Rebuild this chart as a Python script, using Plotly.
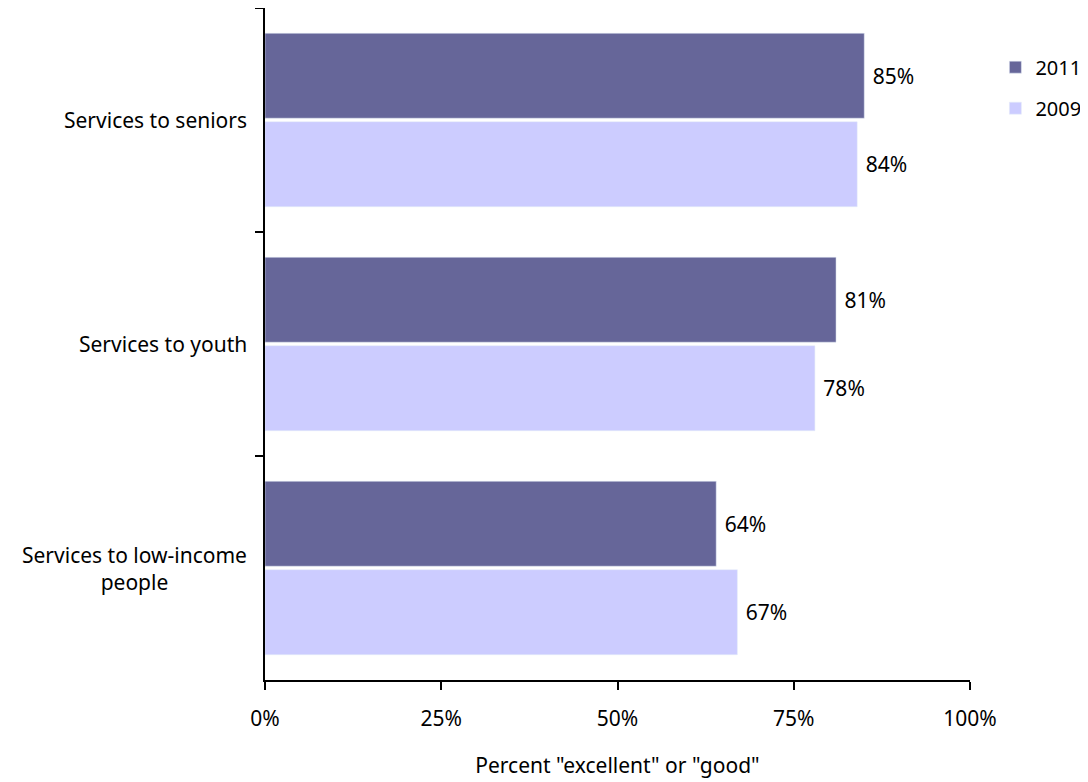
import plotly.graph_objects as go

categories = ["Services to seniors", "Services to youth", "Services to low-income<br>people"]
values_2011 = [85, 81, 64]
values_2009 = [84, 78, 67]
x_ticks = [0, 25, 50, 75, 100]
x_tick_labels = ["0%", "25%", "50%", "75%", "100%"]

FONT = "Noto Sans"
FS = 21
PAD = "\u00a0"
fig = go.Figure()
fig.add_trace(go.Bar(
    y=categories, x=values_2011, orientation="h", name="2011",
    marker=dict(color="#666699"), legendgroup="a",
    text=[f"{PAD}{v}%" for v in values_2011], textposition="outside",
    textfont=dict(size=FS, color="black", family=FONT), cliponaxis=False,
))
fig.add_trace(go.Bar(
    y=categories, x=values_2009, orientation="h", name="2009",
    marker=dict(color="#CCCCFF"), legendgroup="b",
    text=[f"{PAD}{v}%" for v in values_2009], textposition="outside",
    textfont=dict(size=FS, color="black", family=FONT), cliponaxis=False,
))

for c in categories:
    fig.add_annotation(x=-0.023, xref="paper", y=c, yref="y", text=c,
                       xanchor="right", align="center", showarrow=False,
                       font=dict(size=FS, color="black", family=FONT))

fig.update_layout(
    width=1080, height=774,
    margin=dict(l=257, r=118, t=0, b=102, autoexpand=False),
    paper_bgcolor="white", plot_bgcolor="white",
    font=dict(family=FONT, size=FS, color="black"),
    barmode="group", bargap=0.21, bargroupgap=0.04,
    legend=dict(x=1.036, y=0.941, xanchor="left", yanchor="top",
                traceorder="grouped", tracegroupgap=12, itemwidth=30,
                font=dict(size=20, family=FONT), bgcolor="rgba(0,0,0,0)"),
    showlegend=True,
)
fig.update_xaxes(range=[0, 100], tickvals=x_ticks, ticktext=x_tick_labels,
                 showgrid=False, zeroline=False, showline=True, linecolor="black",
                 linewidth=2, ticks="outside", ticklen=8, tickwidth=2, tickcolor="black",
                 ticklabelstandoff=11,
                 title=dict(text='Percent "excellent" or "good"', standoff=27,
                            font=dict(size=FS, family=FONT)))
fig.update_yaxes(autorange="reversed", showticklabels=False, tickson="boundaries",
                 showgrid=False, zeroline=False, showline=True, linecolor="black",
                 linewidth=2, ticks="outside", ticklen=8, tickwidth=2, tickcolor="black")

fig.write_html("out.html")
